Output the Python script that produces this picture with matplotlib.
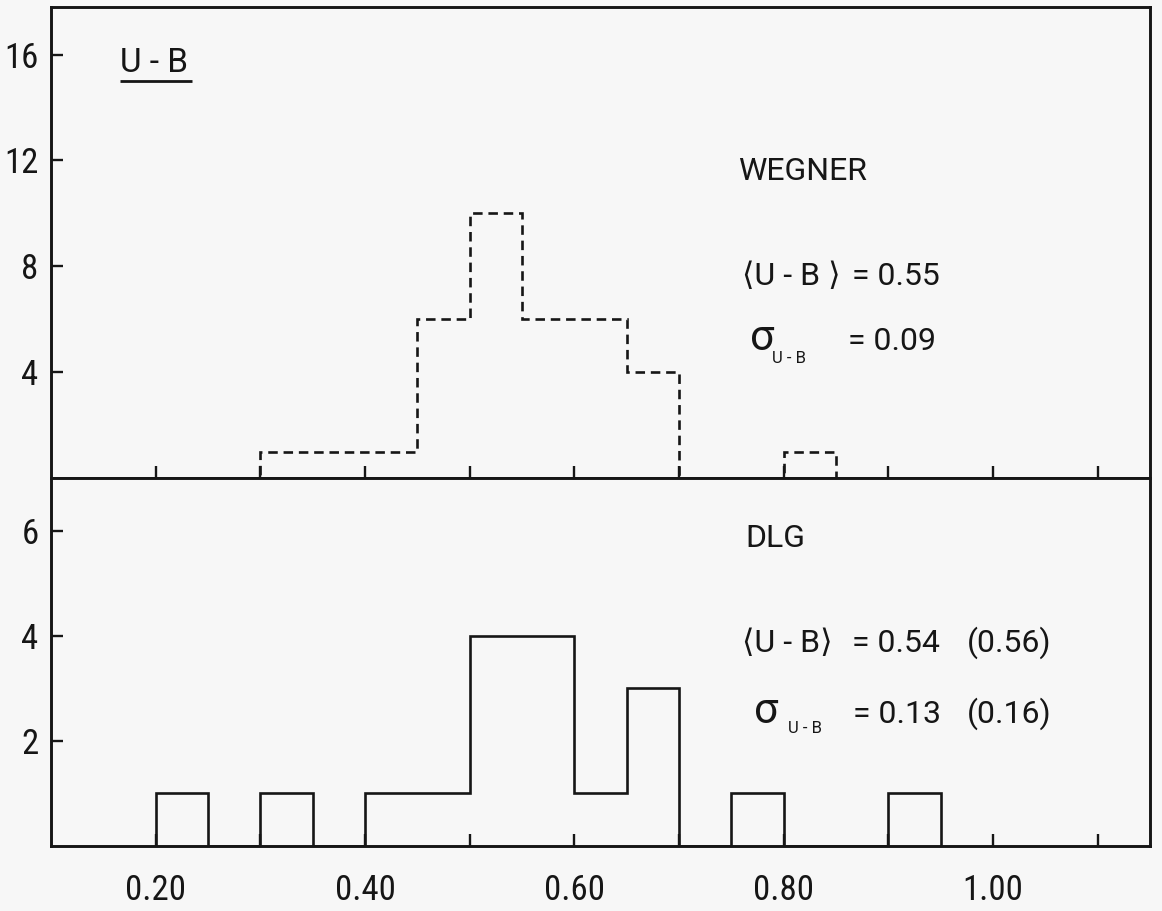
import numpy as np
import matplotlib.pyplot as plt
from matplotlib import font_manager


def pick_font(names):
    """Return the first installed family from names."""
    for name in names:
        try:
            font_manager.findfont(name, fallback_to_default=False)
            return name
        except ValueError:
            pass
    return "DejaVu Sans"


# histogram bins (U-B colour) and counts per bin
bin_edges = [0.20, 0.25, 0.30, 0.35, 0.40, 0.45, 0.50, 0.55,
             0.60, 0.65, 0.70, 0.75, 0.80, 0.85, 0.90, 0.95]
wegner_counts = [0, 0, 1, 1, 1, 6, 10, 6, 6, 4, 0, 0, 1, 0, 0]
dlg_counts = [1, 0, 1, 0, 1, 1, 4, 4, 1, 3, 0, 1, 0, 0, 1]

x_ticks = [0.2, 0.3, 0.4, 0.5, 0.6, 0.7, 0.8, 0.9, 1.0, 1.1]
x_tick_labels = ["0.20", "", "0.40", "", "0.60", "", "0.80", "", "1.00", ""]
top_y_ticks = [4, 8, 12, 16]
bottom_y_ticks = [2, 4, 6]

tick_font = pick_font(["Roboto Condensed", "Liberation Sans Narrow", "Roboto"])
note_font = pick_font(["Roboto", "Liberation Sans"])
plt.rcParams["font.family"] = [tick_font, "DejaVu Sans"]

ink = "#161616"
paper = "#f7f7f7"

fig = plt.figure(figsize=(11.62, 9.11), dpi=100, facecolor=paper)
ax_top = fig.add_axes([0.0439, 0.4753, 0.9458, 0.517], facecolor=paper)
ax_bot = fig.add_axes([0.0439, 0.0713, 0.9458, 0.404], facecolor=paper)

ax_top.stairs(wegner_counts, bin_edges, baseline=0, color=ink, lw=1.9,
              linestyle=(0, (3.6, 2.2)))
ax_bot.stairs(dlg_counts, bin_edges, baseline=0, color=ink, lw=1.9)

for ax in (ax_top, ax_bot):
    ax.set_xlim(0.10, 1.15)
    ax.set_xticks(x_ticks)
    for sp in ax.spines.values():
        sp.set_linewidth(2.1)
        sp.set_color(ink)
    ax.tick_params(axis="both", direction="in", length=8.5, width=1.7,
                   color=ink, labelsize=25, labelcolor=ink)
    ax.tick_params(axis="y", pad=9)

ax_top.set_ylim(0, 17.8)
ax_top.set_yticks(top_y_ticks)
ax_top.tick_params(axis="x", labelbottom=False)

ax_bot.set_ylim(0, 7)
ax_bot.set_yticks(bottom_y_ticks)
ax_bot.set_xticklabels(x_tick_labels)
ax_bot.tick_params(axis="x", pad=20)

fam = [note_font, "DejaVu Sans"]
txt = dict(ha="left", va="baseline", color=ink, fontsize=23, family=fam)
sig = dict(ha="left", va="baseline", color=ink, fontsize=31, family=fam)
sub = dict(ha="left", va="baseline", color=ink, fontsize=12, family=fam)

# top panel labels
t = ax_top.transAxes
ax_top.text(0.0628, 0.862, "U - B", transform=t, **dict(txt, fontsize=24))
ax_top.plot([0.0628, 0.128], [0.843, 0.843], transform=t,
            color=ink, lw=2.0, solid_capstyle="butt")
ax_top.text(0.625, 0.633, "WEGNER", transform=t, **txt)
ax_top.text(0.629, 0.410, "⟨U - B ⟩", transform=t, **txt)
ax_top.text(0.729, 0.410, "= 0.55", transform=t, **txt)
ax_top.text(0.636, 0.272, "σ", transform=t, **sig)
ax_top.text(0.656, 0.244, "U - B", transform=t, **sub)
ax_top.text(0.725, 0.272, "= 0.09", transform=t, **txt)

# bottom panel labels
b = ax_bot.transAxes
ax_bot.text(0.632, 0.8125, "DLG", transform=b, **txt)
ax_bot.text(0.629, 0.527, "⟨U - B⟩", transform=b, **txt)
ax_bot.text(0.729, 0.527, "= 0.54", transform=b, **txt)
ax_bot.text(0.833, 0.527, "(0.56)", transform=b, **txt)
ax_bot.text(0.640, 0.334, "σ", transform=b, **sig)
ax_bot.text(0.671, 0.307, "U - B", transform=b, **sub)
ax_bot.text(0.730, 0.334, "= 0.13", transform=b, **txt)
ax_bot.text(0.833, 0.334, "(0.16)", transform=b, **txt)

fig.savefig("out.png", dpi=100, facecolor=paper)
